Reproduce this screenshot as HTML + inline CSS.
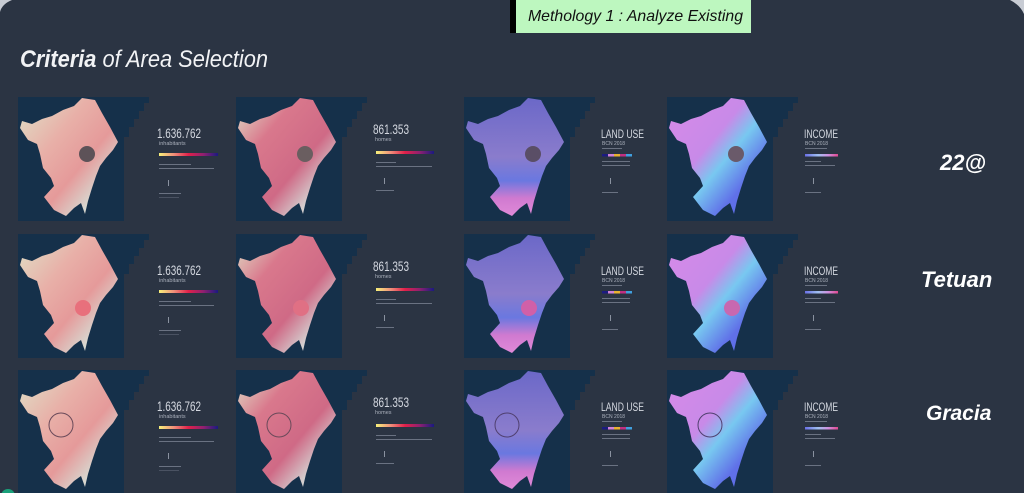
<!DOCTYPE html>
<html><head><meta charset="utf-8"><style>
html,body{margin:0;padding:0;background:#2b3443;}
svg{display:block;font-family:"Liberation Sans",sans-serif;}
</style></head><body>
<svg width="1024" height="493" viewBox="0 0 1024 493" xmlns="http://www.w3.org/2000/svg">
<defs>
  <path id="city" d="M64,1 L77,3 L84,16 L92,30 L100,45 L95,53 L88,61 L82,69 L78,79 L74,91 L70,104 L67,117 L63,106 L56,111 L48,119 L36,113 L26,100 L36,89 L33,81 L25,71 L22,57 L19,47 L10,43 L2,31 L4,24 L14,27 L24,22 L34,19 L45,13 L56,9 Z"/>
  <path id="tile" d="M0,0 L131,0 L131,6 L126,6 L126,14 L121,14 L121,22 L116,22 L116,30 L111,30 L111,40 L106,40 L106,124 L0,124 Z"/>
  <linearGradient id="gPop" x1="0" y1="0" x2="1" y2="1">
    <stop offset="0" stop-color="#dfe2c8"/><stop offset="0.35" stop-color="#e8b0a8"/><stop offset="0.6" stop-color="#e59a9a"/><stop offset="0.8" stop-color="#d8d8d0"/><stop offset="1" stop-color="#dcdcd8"/>
  </linearGradient>
  <linearGradient id="gHome" x1="0" y1="0" x2="1" y2="1">
    <stop offset="0" stop-color="#dfe2c8"/><stop offset="0.3" stop-color="#d9788c"/><stop offset="0.6" stop-color="#cf6a86"/><stop offset="0.8" stop-color="#d4d0d0"/><stop offset="1" stop-color="#dcdcd8"/>
  </linearGradient>
  <linearGradient id="gLand" x1="0" y1="0" x2="0" y2="1">
    <stop offset="0" stop-color="#6b68c8"/><stop offset="0.5" stop-color="#8a7ccc"/><stop offset="0.7" stop-color="#6a78e0"/><stop offset="0.85" stop-color="#d07ad0"/><stop offset="1" stop-color="#e08ad8"/>
  </linearGradient>
  <linearGradient id="gInc" x1="0" y1="0" x2="1" y2="1">
    <stop offset="0" stop-color="#d88ae8"/><stop offset="0.4" stop-color="#c88ae8"/><stop offset="0.55" stop-color="#78c8f0"/><stop offset="0.75" stop-color="#6070e8"/><stop offset="1" stop-color="#5a68e8"/>
  </linearGradient>
  <linearGradient id="bar" x1="0" x2="1">
    <stop offset="0" stop-color="#f6f07a"/><stop offset="0.25" stop-color="#f0907a"/><stop offset="0.5" stop-color="#e0204a"/><stop offset="0.75" stop-color="#902070"/><stop offset="1" stop-color="#1a1a80"/>
  </linearGradient>
  <linearGradient id="bar2" x1="0" x2="1">
    <stop offset="0" stop-color="#6a70e8"/><stop offset="0.4" stop-color="#a0c0f0"/><stop offset="0.7" stop-color="#d090e0"/><stop offset="1" stop-color="#e04890"/>
  </linearGradient>
</defs>
<rect x="0" y="0" width="1024" height="493" fill="#2b3443"/>
<path d="M0,0 L12,0 Q2,4 0,12 Z" fill="#c8ccd4"/>
<path d="M1024,0 L1010,0 Q1020,5 1024,14 Z" fill="#c8ccd4"/>

<rect x="510" y="0" width="6" height="33" fill="#000"/>
<rect x="516" y="0" width="235" height="33" fill="#bdf7bf"/>
<text x="528" y="21" font-size="16" font-style="italic" fill="#111" textLength="215" lengthAdjust="spacingAndGlyphs">Methology 1 : Analyze Existing</text>
<text x="20" y="67" font-size="24" font-style="italic" fill="#f2f3f5" textLength="248" lengthAdjust="spacingAndGlyphs"><tspan font-weight="bold">Criteria</tspan> of Area Selection</text>

<text x="940" y="170" font-size="22" font-weight="bold" font-style="italic" fill="#fff">22@</text>
<text x="921" y="287" font-size="22" font-weight="bold" font-style="italic" fill="#fff">Tetuan</text>
<text x="926" y="420" font-size="21" font-weight="bold" font-style="italic" fill="#fff">Gracia</text>

<g transform="translate(0,97)">
  <g transform="translate(18,0)"><use href="#tile" fill="#15304a"/><use href="#city" fill="url(#gPop)"/><circle cx="69" cy="57" r="8" fill="#5d5258"/></g>
  <g transform="translate(236,0)"><use href="#tile" fill="#15304a"/><use href="#city" fill="url(#gHome)"/><circle cx="69" cy="57" r="8" fill="#6a5e60"/></g>
  <g transform="translate(464,0)"><use href="#tile" fill="#15304a"/><use href="#city" fill="url(#gLand)"/><circle cx="69" cy="57" r="8" fill="#5a4e66"/></g>
  <g transform="translate(667,0)"><use href="#tile" fill="#15304a"/><use href="#city" fill="url(#gInc)"/><circle cx="69" cy="57" r="8" fill="#6a5a6a"/></g>
</g>
<g transform="translate(0,234)">
  <g transform="translate(18,0)"><use href="#tile" fill="#15304a"/><use href="#city" fill="url(#gPop)"/><circle cx="65" cy="74" r="8" fill="#e8707c"/></g>
  <g transform="translate(236,0)"><use href="#tile" fill="#15304a"/><use href="#city" fill="url(#gHome)"/><circle cx="65" cy="74" r="8" fill="#e07084"/></g>
  <g transform="translate(464,0)"><use href="#tile" fill="#15304a"/><use href="#city" fill="url(#gLand)"/><circle cx="65" cy="74" r="8" fill="#d060a8"/></g>
  <g transform="translate(667,0)"><use href="#tile" fill="#15304a"/><use href="#city" fill="url(#gInc)"/><circle cx="65" cy="74" r="8" fill="#c868b0"/></g>
</g>
<g transform="translate(0,370)">
  <g transform="translate(18,0)"><use href="#tile" fill="#15304a"/><use href="#city" fill="url(#gPop)"/><circle cx="43" cy="55" r="12" fill="none" stroke="#6a4a5a" stroke-width="1"/></g>
  <g transform="translate(236,0)"><use href="#tile" fill="#15304a"/><use href="#city" fill="url(#gHome)"/><circle cx="43" cy="55" r="12" fill="none" stroke="#6a4a5a" stroke-width="1"/></g>
  <g transform="translate(464,0)"><use href="#tile" fill="#15304a"/><use href="#city" fill="url(#gLand)"/><circle cx="43" cy="55" r="12" fill="none" stroke="#504070" stroke-width="1"/></g>
  <g transform="translate(667,0)"><use href="#tile" fill="#15304a"/><use href="#city" fill="url(#gInc)"/><circle cx="43" cy="55" r="12" fill="none" stroke="#504070" stroke-width="1"/></g>
</g>

<g fill="#d4d8e0">
  <g id="t1">
    <text x="157" y="138" font-size="14" textLength="44" lengthAdjust="spacingAndGlyphs">1.636.762</text>
    <text x="159" y="145" font-size="5.5" fill="#aab0bc">inhabitants</text>
    <rect x="159" y="153" width="59" height="3" fill="url(#bar)"/>
    <rect x="159" y="164" width="32" height="1" fill="#6a7282"/><rect x="159" y="168" width="55" height="1" fill="#6a7282"/>
    <rect x="168" y="180" width="1" height="6" fill="#8a92a0"/>
    <rect x="159" y="193" width="22" height="1" fill="#6a7282"/><rect x="159" y="197" width="20" height="1" fill="#4a5262"/>
  </g>
  <use href="#t1" y="137"/>
  <use href="#t1" y="273"/>
  <g id="t2">
    <text x="373" y="134" font-size="14" textLength="36" lengthAdjust="spacingAndGlyphs">861.353</text>
    <text x="375" y="141" font-size="5.5" fill="#aab0bc">homes</text>
    <rect x="376" y="151" width="58" height="3" fill="url(#bar)"/>
    <rect x="376" y="162" width="20" height="1" fill="#6a7282"/><rect x="376" y="166" width="56" height="1" fill="#6a7282"/>
    <rect x="384" y="178" width="1" height="6" fill="#8a92a0"/>
    <rect x="376" y="190" width="18" height="1" fill="#6a7282"/>
  </g>
  <use href="#t2" y="137"/>
  <use href="#t2" y="273"/>
  <g id="t3">
    <text x="601" y="138" font-size="12" textLength="43" lengthAdjust="spacingAndGlyphs">LAND USE</text>
    <text x="602" y="145" font-size="5" fill="#aab0bc">BCN 2018</text>
    <rect x="602" y="148" width="20" height="1" fill="#6a7282"/>
    <rect x="602" y="154" width="6" height="2.5" fill="#1c1c80"/><rect x="608" y="154" width="6" height="2.5" fill="#d080d8"/><rect x="614" y="154" width="6" height="2.5" fill="#e8b030"/><rect x="620" y="154" width="6" height="2.5" fill="#c03080"/><rect x="626" y="154" width="6" height="2.5" fill="#40a0e0"/>
    <rect x="602" y="161" width="28" height="1" fill="#6a7282"/><rect x="602" y="165" width="28" height="1" fill="#6a7282"/>
    <rect x="610" y="178" width="1" height="6" fill="#8a92a0"/>
    <rect x="602" y="192" width="16" height="1" fill="#6a7282"/>
  </g>
  <use href="#t3" y="137"/>
  <use href="#t3" y="273"/>
  <g id="t4">
    <text x="804" y="138" font-size="12" textLength="34" lengthAdjust="spacingAndGlyphs">INCOME</text>
    <text x="805" y="145" font-size="5" fill="#aab0bc">BCN 2018</text>
    <rect x="805" y="148" width="22" height="1" fill="#6a7282"/>
    <rect x="805" y="154" width="33" height="2.5" fill="url(#bar2)"/>
    <rect x="805" y="161" width="16" height="1" fill="#6a7282"/><rect x="805" y="165" width="30" height="1" fill="#6a7282"/>
    <rect x="813" y="178" width="1" height="6" fill="#8a92a0"/>
    <rect x="805" y="192" width="16" height="1" fill="#6a7282"/>
  </g>
  <use href="#t4" y="137"/>
  <use href="#t4" y="273"/>
</g>
<circle cx="8" cy="496" r="7" fill="#1aa07a"/>
</svg>
</body></html>
